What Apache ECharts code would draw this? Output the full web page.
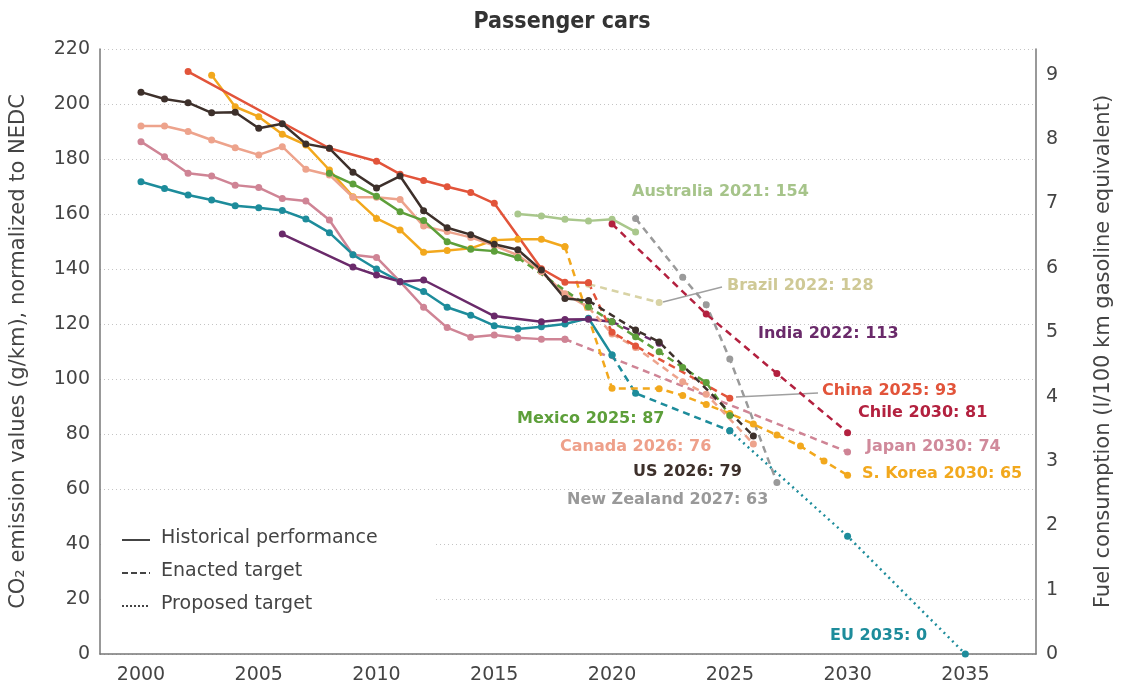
<!DOCTYPE html>
<html>
<head>
<meta charset="utf-8">
<title>Passenger cars</title>
<script src="https://cdn.jsdelivr.net/npm/echarts@6/dist/echarts.min.js"></script>
<style>
  html, body { margin: 0; padding: 0; background: #fff; }
  #chart { width: 1124px; height: 691px; }
</style>
</head>
<body>
<div id="chart"></div>
<script>
// year tick labels
var years = [2000, 2005, 2010, 2015, 2020, 2025, 2030, 2035];

// historical performance [year, g/km]
var usHist = [[2000,204.3],[2001,201.8],[2002,200.5],[2003,196.8],[2004,197],[2005,191.2],[2006,192.8],[2007,185.5],[2008,183.9],[2009,175.2],[2010,169.5],[2011,173.8],[2012,161.2],[2013,155],[2014,152.5],[2015,149],[2016,147],[2017,139.6],[2018,129.3],[2019,128.5]];
var chinaHist = [[2002,211.8],[2008,183.9],[2010,179.2],[2011,174.5],[2012,172.2],[2013,169.9],[2014,167.8],[2015,163.9],[2017,140.1],[2018,135.2],[2019,135]];
var koreaHist = [[2003,210.5],[2004,199],[2005,195.4],[2006,189],[2007,185.1],[2008,176],[2009,166.3],[2010,158.4],[2011,154.2],[2012,146.1],[2013,146.7],[2014,147.5],[2015,150.5],[2016,150.8],[2017,150.8],[2018,148.1]];
var canadaHist = [[2000,192],[2001,192],[2002,190],[2003,186.9],[2004,184.1],[2005,181.5],[2006,184.5],[2007,176.3],[2008,174.2],[2009,166.1],[2010,166.1],[2011,165.3],[2012,155.6],[2013,153.6],[2014,151.5],[2015,148.5],[2016,145],[2017,139],[2018,131],[2019,126]];
var japanHist = [[2000,186.3],[2001,180.8],[2002,174.8],[2003,173.8],[2004,170.5],[2005,169.6],[2006,165.6],[2007,164.7],[2008,157.8],[2009,145.2],[2010,144.2],[2011,135.4],[2012,126.1],[2013,118.7],[2014,115.2],[2015,116],[2016,115],[2017,114.5],[2018,114.5]];
var euHist = [[2000,171.7],[2001,169.3],[2002,166.9],[2003,165.1],[2004,163],[2005,162.3],[2006,161.3],[2007,158.2],[2008,153.2],[2009,145.2],[2010,140],[2011,135.4],[2012,131.8],[2013,126.1],[2014,123.2],[2015,119.4],[2016,118.2],[2017,119],[2018,120],[2019,122.1],[2020,108.7]];
var indiaHist = [[2006,152.7],[2009,140.7],[2010,137.8],[2011,135.4],[2012,136],[2015,122.9],[2017,120.8],[2018,121.6],[2019,121.7],[2020,120.8]];
var mexicoHist = [[2008,174.8],[2009,170.9],[2010,166.5],[2011,160.8],[2012,157.6],[2013,149.9],[2014,147.2],[2015,146.5],[2016,144.1]];
var australiaHist = [[2016,160],[2017,159.3],[2018,158.1],[2019,157.5],[2020,158.1],[2021,153.5]];

// enacted targets
var usTarget = [[2019,128.5],[2021,117.8],[2022,113.5],[2026,79.3]];
var chinaTarget = [[2019,135],[2020,117],[2021,112],[2025,93]];
var koreaTarget = [[2018,148.1],[2020,96.6],[2022,96.5],[2023,94],[2024,90.7],[2025,87.5],[2026,83.6],[2027,79.6],[2028,75.6],[2029,70.2],[2030,65]];
var canadaTarget = [[2019,126],[2020,116.4],[2021,111.5],[2023,99],[2024,94.5],[2026,76.4]];
var japanTarget = [[2018,114.5],[2030,73.5]];
var euTarget = [[2020,108.7],[2021,94.8],[2025,81.2]];
var indiaTarget = [[2020,120.8],[2022,113]];
var mexicoTarget = [[2016,144.1],[2019,126.3],[2020,120.8],[2021,115.4],[2022,109.9],[2023,104.2],[2024,98.7],[2025,86.7]];
var brazilTarget = [[2019,134.5],[2022,127.8]];
var chileTarget = [[2020,156.4],[2024,123.6],[2027,102],[2030,80.5]];
var nzTarget = [[2021,158.4],[2023,137],[2024,127],[2025,107.3],[2027,62.4]];

// proposed target
var euProposed = [[2025,81.2],[2030,42.8],[2035,0]];

var C = {
  us: '#3d302b', china: '#e2543a', korea: '#f2a81d', canada: '#eda38c',
  japan: '#cf8495', eu: '#1d8c9b', india: '#6a2a6a', mexico: '#5d9f3a',
  australia: '#a9c78c', brazil: '#d8d3a5', chile: '#b3213f', nz: '#9a9a9a'
};

var DASH = [7, 5];
var DOT = [2, 4];

function line(name, data, color, type) {
  return {
    type: 'line',
    name: name,
    data: data,
    symbol: 'circle',
    symbolSize: 7,
    showAllSymbol: true,
    lineStyle: { color: color, width: 2.5, type: type || 'solid' },
    itemStyle: { color: color },
    silent: true
  };
}

var axisFont = "'DejaVu Sans', sans-serif";
function tag(text, x, y, color) {
  return {
    type: 'text', z: 2, left: x, top: y - 11,
    style: { text: text, fill: color, font: 'bold 16px ' + axisFont }
  };
}

var chart = echarts.init(document.getElementById('chart'));
chart.setOption({
  animation: false,
  title: {
    text: 'Passenger cars',
    left: 'center',
    top: 6,
    textStyle: { fontFamily: "'Liberation Sans Narrow', 'DejaVu Sans Condensed', sans-serif", fontWeight: 'bold', fontSize: 23, color: '#333' }
  },
  grid: { left: 100, right: 88, top: 49, bottom: 37 },
  xAxis: {
    type: 'value',
    min: 1998.26,
    max: 2038,
    axisLine: { show: true, lineStyle: { color: '#777', width: 1.5 } },
    axisTick: { show: false },
    splitLine: { show: false },
    axisLabel: {
      customValues: years,
      color: '#444', fontSize: 19, margin: 12,
      fontFamily: axisFont,
      formatter: function (v) { return String(v); }
    }
  },
  yAxis: [{
    type: 'value',
    min: 0, max: 220, interval: 20,
    name: 'CO\u2082 emission values (g/km), normalized to NEDC',
    nameLocation: 'middle',
    nameGap: 71,
    nameTextStyle: { color: '#444', fontSize: 21, fontFamily: axisFont },
    axisLine: { show: true, lineStyle: { color: '#777', width: 1.5 } },
    axisTick: { show: false },
    axisLabel: { color: '#444', fontSize: 19, fontFamily: axisFont, margin: 10 },
    splitLine: { show: true, lineStyle: { color: '#c4c4c4', type: [1, 3], width: 1 } }
  }, {
    type: 'value',
    position: 'right',
    min: 0, max: 220 / 23.4, interval: 1,
    name: 'Fuel consumption (l/100 km gasoline equivalent)',
    nameLocation: 'middle',
    nameGap: 57,
    nameRotate: 90,
    nameTextStyle: { color: '#444', fontSize: 21, fontFamily: axisFont },
    axisLine: { show: true, lineStyle: { color: '#777', width: 1.5 } },
    axisTick: { show: false },
    axisLabel: { color: '#444', fontSize: 19, fontFamily: axisFont, margin: 10, showMaxLabel: false },
    splitLine: { show: false }
  }],
  graphic: [
    // legend box hides the grid behind it
    { type: 'rect', z: 1, shape: { x: 104, y: 518, width: 330, height: 108 }, style: { fill: '#fff' } },
    { type: 'line', z: 2, shape: { x1: 122, y1: 540, x2: 150, y2: 540 }, style: { stroke: '#444', lineWidth: 2 } },
    { type: 'line', z: 2, shape: { x1: 122, y1: 573, x2: 150, y2: 573 }, style: { stroke: '#444', lineWidth: 2, lineDash: [6, 3] } },
    { type: 'line', z: 2, shape: { x1: 122, y1: 606, x2: 150, y2: 606 }, style: { stroke: '#444', lineWidth: 2, lineDash: [2, 2] } },
    { type: 'text', z: 2, left: 161, top: 529, style: { text: 'Historical performance', fill: '#444', font: '19px ' + axisFont } },
    { type: 'text', z: 2, left: 161, top: 562, style: { text: 'Enacted target', fill: '#444', font: '19px ' + axisFont } },
    { type: 'text', z: 2, left: 161, top: 595, style: { text: 'Proposed target', fill: '#444', font: '19px ' + axisFont } },
    // leader lines
    { type: 'line', z: 2, shape: { x1: 663, y1: 302, x2: 722, y2: 287 }, style: { stroke: '#a0a0a0', lineWidth: 1.5 } },
    { type: 'line', z: 2, shape: { x1: 736, y1: 397, x2: 818, y2: 393 }, style: { stroke: '#a0a0a0', lineWidth: 1.5 } },
    // end labels
    tag('Australia 2021: 154', 632, 195, '#a6c48a'),
    tag('Brazil 2022: 128', 727, 289, '#cfc996'),
    tag('India 2022: 113', 758, 337, C.india),
    tag('China 2025: 93', 822, 394, C.china),
    tag('Chile 2030: 81', 858, 416, C.chile),
    tag('Mexico 2025: 87', 517, 422, C.mexico),
    tag('Japan 2030: 74', 866, 450, '#d08a9b'),
    tag('Canada 2026: 76', 560, 450, '#eea08a'),
    tag('US 2026: 79', 633, 475, C.us),
    tag('S. Korea 2030: 65', 862, 477, C.korea),
    tag('New Zealand 2027: 63', 567, 503, '#999999'),
    tag('EU 2035: 0', 830, 639, C.eu)
  ],
  series: [
    line('Brazil', brazilTarget, C.brazil, DASH),
    line('Australia', australiaHist, C.australia),
    line('New Zealand', nzTarget, C.nz, DASH),
    line('Chile', chileTarget, C.chile, DASH),
    line('Japan', japanHist, C.japan),
    line('Japan target', japanTarget, C.japan, DASH),
    line('EU', euHist, C.eu),
    line('EU target', euTarget, C.eu, DASH),
    line('EU proposed', euProposed, C.eu, DOT),
    line('India', indiaHist, C.india),
    line('India target', indiaTarget, C.india, DASH),
    line('S. Korea', koreaHist, C.korea),
    line('S. Korea target', koreaTarget, C.korea, DASH),
    line('Canada', canadaHist, C.canada),
    line('Canada target', canadaTarget, C.canada, DASH),
    line('Mexico', mexicoHist, C.mexico),
    line('Mexico target', mexicoTarget, C.mexico, DASH),
    line('China', chinaHist, C.china),
    line('China target', chinaTarget, C.china, DASH),
    line('US', usHist, C.us),
    line('US target', usTarget, C.us, DASH)
  ]
});
</script>
</body>
</html>
